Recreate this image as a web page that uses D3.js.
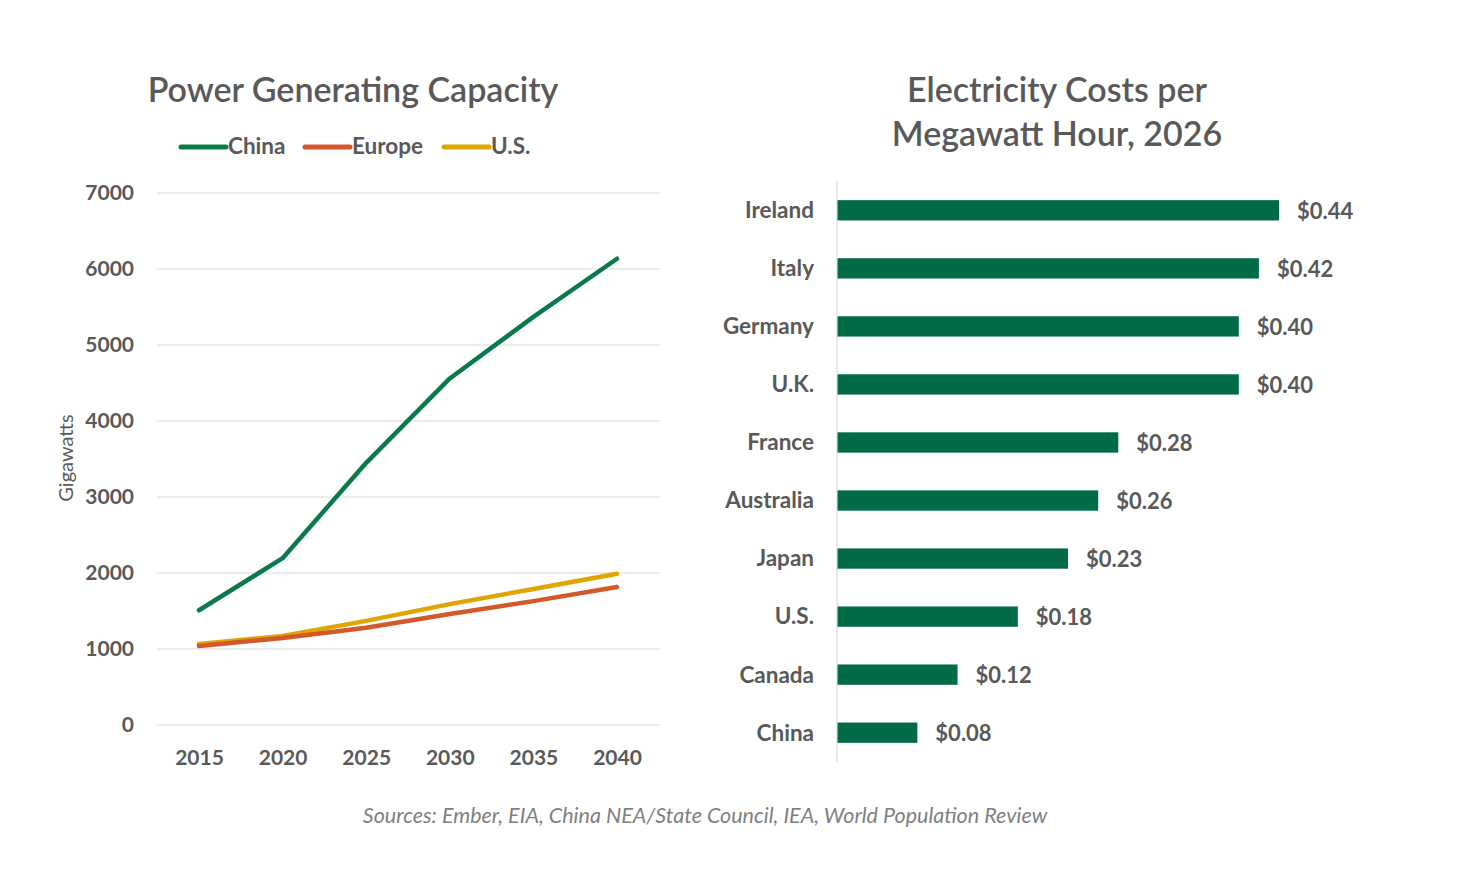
<!DOCTYPE html>
<html>
<head>
<meta charset="utf-8">
<script src="https://cdn.jsdelivr.net/npm/d3@7"></script>
<style>
  body { margin: 0; background: #fff; }
  svg text { font-family: Lato, "Open Sans", sans-serif; }
</style>
</head>
<body>
<svg id="chart" width="1464" height="890"></svg>
<script>
// line chart data
const years = [2015, 2020, 2025, 2030, 2035, 2040];
const china = [1510, 2195, 3450, 4560, 5370, 6135];
const europe = [1040, 1145, 1280, 1460, 1630, 1815];
const us = [1065, 1170, 1370, 1590, 1790, 1990];
const yTicks = [0, 1000, 2000, 3000, 4000, 5000, 6000, 7000];

// bar chart data
const countries = ["Ireland", "Italy", "Germany", "U.K.", "France", "Australia", "Japan", "U.S.", "Canada", "China"];
const costs = [0.44, 0.42, 0.40, 0.40, 0.28, 0.26, 0.23, 0.18, 0.12, 0.08];

const textColor = "#595959";
const svg = d3.select("#chart");

// ---------- left: line chart ----------
const series = [
  {name: "China", values: china, color: "#0b7a4b"},
  {name: "Europe", values: europe, color: "#d4582a"},
  {name: "U.S.", values: us, color: "#e0a500"}
];

const x = d3.scalePoint().domain(years).range([199, 617]);
const y = d3.scaleLinear().domain([0, 7000]).range([725, 193]);

svg.append("text")
  .attr("x", 353).attr("y", 102)
  .attr("text-anchor", "middle")
  .style("font-size", "34px").style("font-weight", 600)
  .style("fill", textColor)
  .text("Power Generating Capacity");

// legend
const legendX = [181, 305, 444];
const legend = svg.append("g");
series.forEach((s, i) => {
  legend.append("line")
    .attr("x1", legendX[i]).attr("x2", legendX[i] + 45)
    .attr("y1", 147).attr("y2", 147)
    .attr("stroke", s.color).attr("stroke-width", 5)
    .attr("stroke-linecap", "round");
  legend.append("text")
    .attr("x", legendX[i] + 47).attr("y", 154)
    .style("font-size", "22.5px").style("font-weight", 700)
    .style("fill", textColor)
    .text(s.name);
});

// gridlines
svg.append("g")
  .selectAll("line")
  .data(yTicks)
  .join("line")
    .attr("x1", 157).attr("x2", 660)
    .attr("y1", d => y(d)).attr("y2", d => y(d))
    .attr("stroke", "#d9d9d9").attr("stroke-width", 1.2);

const yAxis = g => g
  .attr("transform", "translate(140,0)")
  .call(d3.axisLeft(y).tickValues(yTicks).tickSize(0).tickPadding(6).tickFormat(d3.format("d")))
  .call(g => g.select(".domain").remove())
  .call(g => g.selectAll("text")
    .style("font-size", "21px").style("font-weight", 700)
    .style("fill", textColor));

const xAxis = g => g
  .attr("transform", "translate(0,745)")
  .call(d3.axisBottom(x).tickSize(0).tickPadding(5).tickFormat(d3.format("d")))
  .call(g => g.select(".domain").remove())
  .call(g => g.selectAll("text")
    .style("font-size", "21px").style("font-weight", 700)
    .style("fill", textColor));

svg.append("g").call(yAxis);
svg.append("g").call(xAxis);

svg.append("text")
  .attr("transform", "rotate(-90)")
  .attr("x", -458).attr("y", 73)
  .attr("text-anchor", "middle")
  .style("font-size", "20px")
  .style("fill", textColor)
  .text("Gigawatts");

const line = d3.line()
  .x((d, i) => x(years[i]))
  .y(d => y(d));

svg.append("g")
  .selectAll("path")
  .data(series.slice().reverse())
  .join("path")
    .attr("d", d => line(d.values))
    .attr("fill", "none")
    .attr("stroke", d => d.color)
    .attr("stroke-width", 4.5)
    .attr("stroke-linecap", "round")
    .attr("stroke-linejoin", "round");

// ---------- right: bar chart ----------
const xb = d3.scaleLinear().domain([0, 0.44]).range([837, 1279]);
const yb = d3.scaleBand().domain(countries).range([181, 762]).paddingInner(0.65).paddingOuter(0.33);

svg.append("text")
  .attr("text-anchor", "middle")
  .style("font-size", "34px").style("font-weight", 600)
  .style("fill", textColor)
  .selectAll("tspan")
  .data(["Electricity Costs per", "Megawatt Hour, 2026"])
  .join("tspan")
    .attr("x", 1057)
    .attr("y", (d, i) => 102 + i * 44)
    .text(d => d);

svg.append("g")
  .attr("fill", "#006b45")
  .selectAll("rect")
  .data(costs)
  .join("rect")
    .attr("x", xb(0))
    .attr("y", (d, i) => yb(countries[i]))
    .attr("width", d => xb(d) - xb(0))
    .attr("height", yb.bandwidth());

svg.append("line")
  .attr("x1", 837).attr("x2", 837)
  .attr("y1", 181).attr("y2", 762)
  .attr("stroke", "#d9d9d9").attr("stroke-width", 1.2);

svg.append("g")
  .selectAll("text")
  .data(countries)
  .join("text")
    .attr("x", 814)
    .attr("y", d => yb(d) + yb.bandwidth() / 2)
    .attr("dy", "0.35em")
    .attr("text-anchor", "end")
    .style("font-size", "22.5px").style("font-weight", 700)
    .style("fill", textColor)
    .text(d => d);

svg.append("g")
  .selectAll("text")
  .data(costs)
  .join("text")
    .attr("x", d => xb(d) + 18)
    .attr("y", (d, i) => yb(countries[i]) + yb.bandwidth() / 2)
    .attr("dy", "0.38em")
    .style("font-size", "22px").style("font-weight", 700)
    .style("fill", textColor)
    .text(d => "$" + d.toFixed(2));

// source footer
svg.append("text")
  .attr("x", 705).attr("y", 823)
  .attr("text-anchor", "middle")
  .style("font-size", "21.5px").style("font-style", "italic")
  .style("fill", "#7f7f7f")
  .text("Sources: Ember, EIA, China NEA/State Council, IEA, World Population Review");
</script>
</body>
</html>
